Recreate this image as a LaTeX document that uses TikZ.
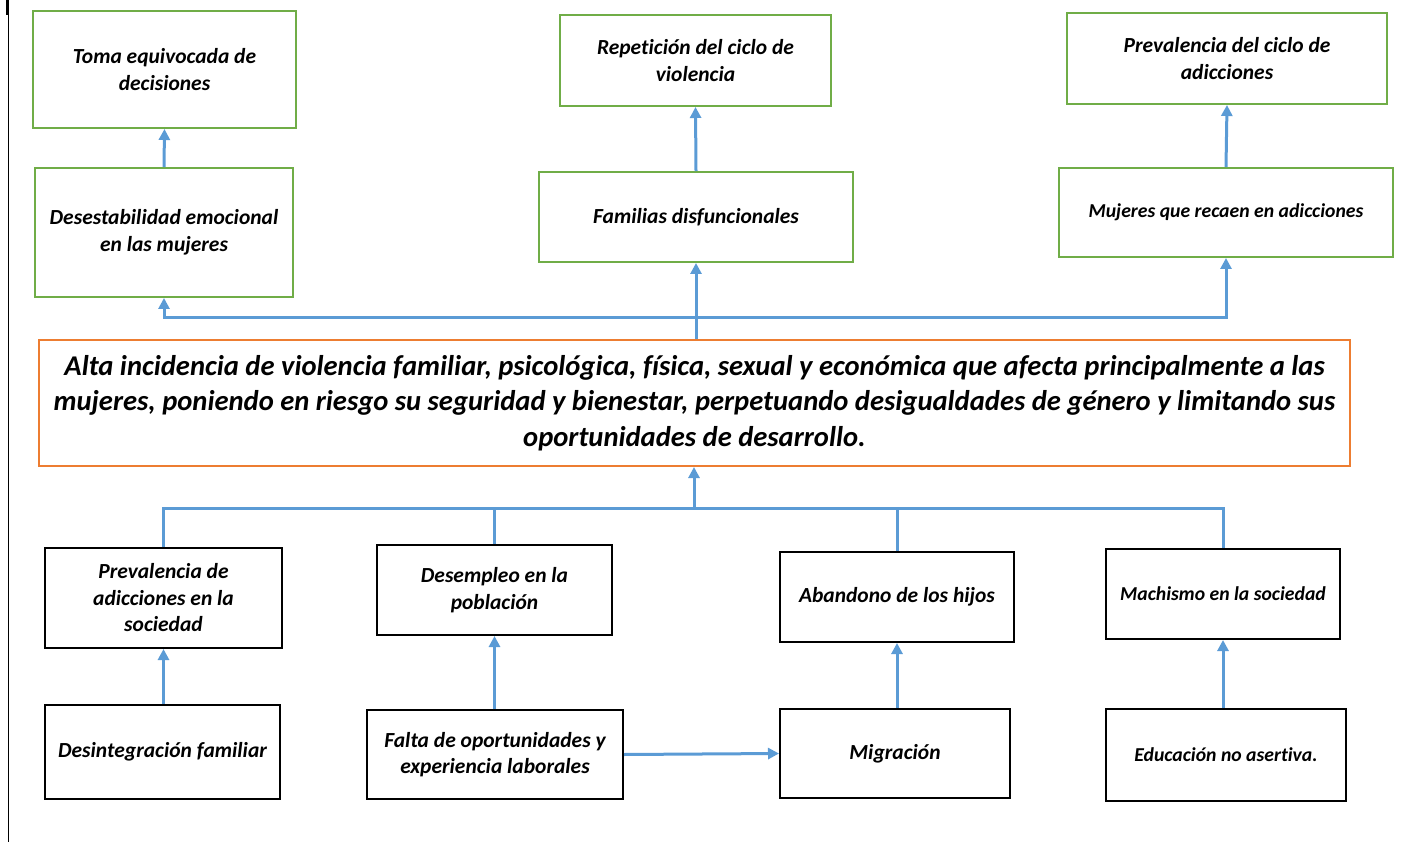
\documentclass[tikz,border=0pt]{standalone}
\usepackage{fontspec}
\setmainfont{Carlito}[Ligatures=NoCommon]
\usetikzlibrary{arrows.meta}
\definecolor{arbolazul}{HTML}{5B9BD5}
\definecolor{arbolverde}{HTML}{70AD47}
\definecolor{arbolnaranja}{HTML}{ED7D31}
\begin{document}
\begin{tikzpicture}[x=1pt, y=-1pt,
		efecto/.style={draw=arbolverde, line width=2pt, inner sep=0pt, align=center, font=\fontsize{21.5}{26.5}\selectfont\bfseries\itshape},
		causa/.style={draw=black, line width=2pt, inner sep=0pt, align=center, font=\fontsize{21.5}{26.5}\selectfont\bfseries\itshape},
		chico/.style={font=\fontsize{19.7}{24}\selectfont\bfseries\itshape},
		problema/.style={draw=arbolnaranja, line width=2pt, inner sep=0pt, align=center, font=\fontsize{28.6}{35.5}\selectfont\bfseries\itshape},
		linea/.style={draw=arbolazul, line width=3pt},
		flecha/.style={linea, -{Triangle[length=11pt,width=11pt]}}]
		\useasboundingbox (0,0) rectangle (1411,842);

		\draw[line width=1pt] (8,0) -- (8,842);
		\draw[line width=2pt] (7,0) -- (7,15);

		% efectos
		\node[efecto, minimum width=263, minimum height=117] (t1) at (164.5,69.5) {Toma equivocada de\\decisiones};
		\node[efecto, minimum width=271, minimum height=91] (t2) at (695.5,60.5) {Repetición del ciclo de\\violencia};
		\node[efecto, minimum width=320, minimum height=91] (t3) at (1227,58.5) {Prevalencia del ciclo de\\adicciones};

		\node[efecto, minimum width=258, minimum height=129] (m1) at (164,232.5) {Desestabilidad emocional\\en las mujeres};
		\node[efecto, minimum width=314, minimum height=90] (m2) at (696,217) {Familias disfuncionales};
		\node[efecto, chico, minimum width=334, minimum height=89] (m3) at (1226,212.5) {Mujeres que recaen en adicciones};

		% problema central
		\node[problema, minimum width=1311, minimum height=126] (prob) at (694.5,403) {Alta incidencia de violencia familiar, psicológica, física, sexual y económica que afecta principalmente a las\\mujeres, poniendo en riesgo su seguridad y bienestar, perpetuando desigualdades de género y limitando sus\\oportunidades de desarrollo.};

		% causas
		\node[causa, minimum width=237, minimum height=100] (b1) at (163.5,598) {Prevalencia de\\adicciones en la\\sociedad};
		\node[causa, minimum width=235, minimum height=90] (b2) at (494.5,590) {Desempleo en la\\población};
		\node[causa, minimum width=234, minimum height=90] (b3) at (897,597) {Abandono de los hijos};
		\node[causa, chico, minimum width=234, minimum height=90] (b4) at (1223,594) {Machismo en la sociedad};

		\node[causa, minimum width=235, minimum height=94] (c1) at (162.5,752) {Desintegración familiar};
		\node[causa, minimum width=256, minimum height=89] (c2) at (495,754.5) {Falta de oportunidades y\\experiencia laborales};
		\node[causa, minimum width=230, minimum height=89] (c3) at (895,753.5) {Migración};
		\node[causa, chico, minimum width=240, minimum height=92] (c4) at (1226,755) {Educación no asertiva.};

		% conectores superiores
		\coordinate (arriba) at (695,318);
		\draw[flecha] (m1.north) -- (t1.south);
		\draw[flecha] (m2.north) -- (t2.south);
		\draw[flecha] (m3.north) -- (t3.south);
		\draw[flecha] (prob.north -| m2.south) -- (m2.south);
		\draw[flecha] (arriba) -| (m1.south);
		\draw[flecha] (arriba) -| (m3.south);

		% conectores inferiores
		\coordinate (abajo) at (694,508);
		\draw[linea] (b1.north) |- (abajo) -| (b4.north);
		\draw[linea] (b2.north) |- (abajo);
		\draw[linea] (b3.north) |- (abajo);
		\draw[flecha] (abajo) -- (prob.south -| abajo);

		\draw[flecha] (c1.north -| b1.north) -- (b1.south);
		\draw[flecha] (c2.north -| b2.north) -- (b2.south);
		\draw[flecha] (c3.north -| b3.north) -- (b3.south);
		\draw[flecha] (c4.north -| b4.north) -- (b4.south);
		\draw[flecha] (c2.east) -- (c3.west);

	\end{tikzpicture}
\end{document}
